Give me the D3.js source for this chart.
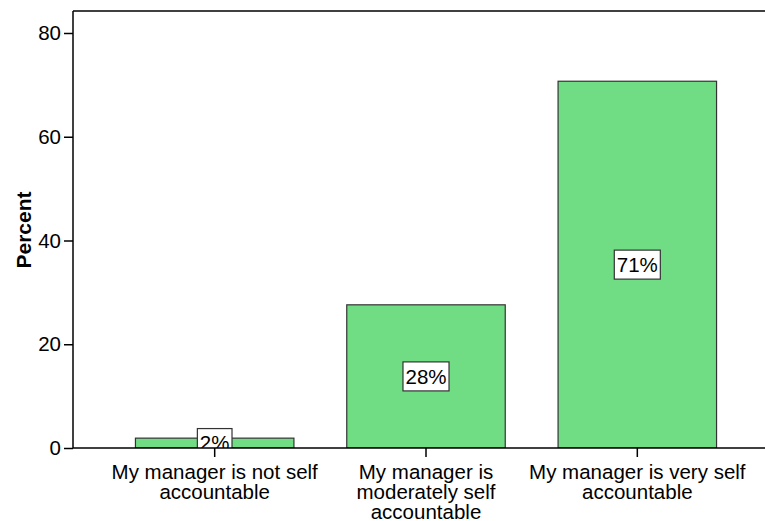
<!DOCTYPE html>
<html>
<head>
<meta charset="utf-8">
<title>Percent by manager accountability</title>
<script src="https://cdn.jsdelivr.net/npm/d3@7"></script>
<style>
    body { margin: 0; background: #fff; }
    text { font-family: "Liberation Sans", Arial, sans-serif; fill: #000; }
    .bar { fill: #70dd85; stroke: #333; stroke-width: 1.2; }
    .box { fill: #fff; stroke: #333; stroke-width: 1.2; }
</style>
</head>
<body>
<div id="chart"></div>
<script>
    // values
    var categories = [
        ["My manager is not self", "accountable"],
        ["My manager is", "moderately self", "accountable"],
        ["My manager is very self", "accountable"]
    ];
    var percents = [1.9, 27.6, 70.7];
    var yTicks = [0, 20, 40, 60, 80];

    var w = 765, h = 521;
    // plot area edges ("top" is taken by window.top, so use a margin object)
    var m = { left: 73, top: 11, bottom: 448, right: 779 };
    var fs = "20.5px";

    var svg = d3.select("#chart").append("svg")
        .attr("width", w)
        .attr("height", h);

    var x = d3.scaleBand()
        .domain(d3.range(categories.length))
        .range([m.left, m.right])
        .paddingInner(0.25)
        .paddingOuter(0.2955);

    var y = d3.scaleLinear()
        .domain([0, 84.24])
        .range([m.bottom, m.top]);

    // clip to the plot area so the small label gets cut by the axis
    svg.append("clipPath").attr("id", "plot")
        .append("rect")
        .attr("x", m.left).attr("y", m.top)
        .attr("width", m.right - m.left).attr("height", m.bottom - m.top);

    var plot = svg.append("g").attr("clip-path", "url(#plot)");

    plot.selectAll("rect.bar")
        .data(percents)
        .enter()
        .append("rect")
        .attr("class", "bar")
        .attr("x", function(d, i) { return x(i); })
        .attr("width", x.bandwidth())
        .attr("y", function(d) { return y(d); })
        .attr("height", function(d) { return m.bottom - y(d); });

    // value labels in white boxes at the middle of each bar
    var labels = plot.selectAll("g.lab")
        .data(percents)
        .enter()
        .append("g")
        .attr("class", "lab")
        .attr("transform", function(d, i) {
            return "translate(" + (x(i) + x.bandwidth() / 2) + "," + y(d / 2) + ")";
        });

    labels.append("rect").attr("class", "box");
    labels.append("text")
        .attr("text-anchor", "middle")
        .attr("dy", "0.36em")
        .style("font-size", fs)
        .text(function(d) { return Math.round(d) + "%"; });

    labels.each(function() {
        var g = d3.select(this);
        var bb = g.select("text").node().getBBox();
        g.select("rect")
            .attr("x", bb.x - 2.5)
            .attr("width", bb.width + 5)
            .attr("y", -14.5)
            .attr("height", 29);
    });

    // frame top line
    svg.append("line")
        .attr("x1", m.left).attr("x2", w)
        .attr("y1", m.top).attr("y2", m.top)
        .attr("stroke", "#000").attr("stroke-width", 1.5);

    // y axis
    var yAxis = svg.append("g")
        .attr("transform", "translate(" + m.left + ",0)")
        .call(d3.axisLeft(y).tickValues(yTicks).tickSize(9).tickPadding(3));
    yAxis.select(".domain").attr("stroke-width", 1.5).attr("d", "M0," + m.bottom + "V" + m.top);
    yAxis.selectAll(".tick line").attr("stroke-width", 1.5);
    yAxis.selectAll(".tick text")
        .style("font-family", "Liberation Sans, Arial, sans-serif")
        .style("font-size", fs);

    // x axis
    var xAxis = svg.append("g")
        .attr("transform", "translate(0," + m.bottom + ")")
        .call(d3.axisBottom(x).tickSize(9).tickFormat(""));
    xAxis.select(".domain").attr("stroke-width", 1.5).attr("d", "M" + m.left + ",0H" + w);
    xAxis.selectAll(".tick line").attr("stroke-width", 1.5);

    xAxis.selectAll(".tick").append("text")
        .attr("text-anchor", "middle")
        .style("font-family", "Liberation Sans, Arial, sans-serif")
        .style("font-size", fs)
        .attr("fill", "#000")
        .each(function(d) {
            var t = d3.select(this);
            categories[d].forEach(function(line, k) {
                t.append("tspan")
                    .attr("x", 0)
                    .attr("y", 31 + k * 19.8)
                    .text(line);
            });
        });

    // y title
    svg.append("text")
        .attr("transform", "translate(30.5,230) rotate(-90)")
        .attr("text-anchor", "middle")
        .style("font-size", "21px")
        .style("font-weight", "bold")
        .text("Percent");
</script>
</body>
</html>
